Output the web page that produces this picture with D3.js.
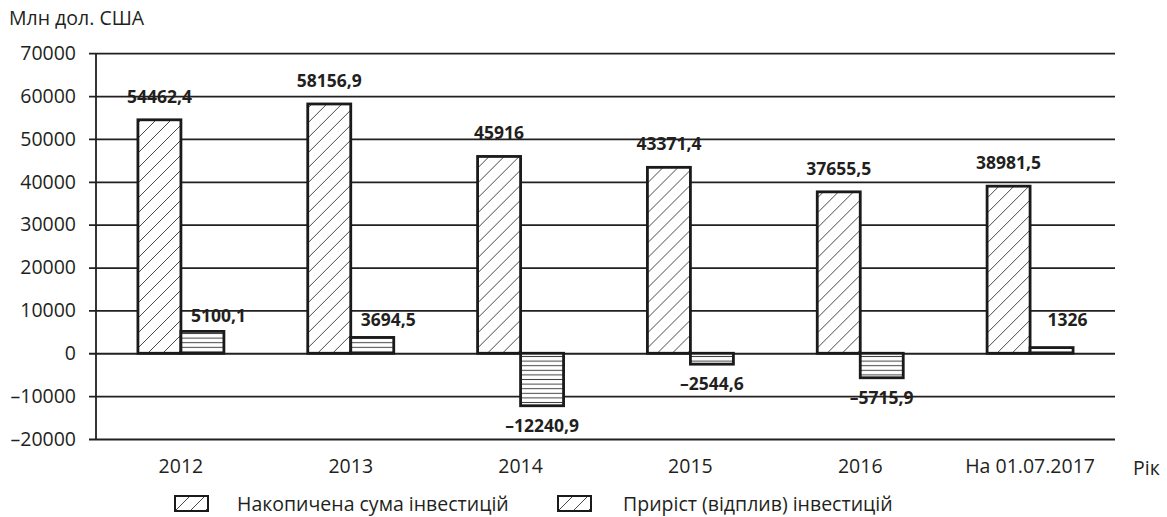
<!DOCTYPE html>
<html>
<head>
<meta charset="utf-8">
<script src="https://cdn.jsdelivr.net/npm/d3@7"></script>
<style>
  body { margin: 0; background: #fff; }
  svg text { font-family: "Open Sans", "Noto Sans", sans-serif; fill: #231f20; }
</style>
</head>
<body>
<script>
// data
const categories = ["2012", "2013", "2014", "2015", "2016", "На 01.07.2017"]
const accumulated = [54462.4, 58156.9, 45916, 43371.4, 37655.5, 38981.5]
const growth = [5100.1, 3694.5, -12240.9, -2544.6, -5715.9, 1326]
const seriesNames = ["Накопичена сума інвестицій", "Приріст (відплив) інвестицій"]
const yTicks = [-20000, -10000, 0, 10000, 20000, 30000, 40000, 50000, 60000, 70000]

const width = 1167
const height = 517
const plotLeft = 96, plotRight = 1115, plotTop = 53.2, plotBottom = 439

const ink = "#231f20"

var svg = d3.select("body").append("svg")
  .attr("width", width)
  .attr("height", height)

// patterns
var defs = svg.append("defs")
var hatch = defs.append("pattern")
  .attr("id", "hatch")
  .attr("patternUnits", "userSpaceOnUse")
  .attr("width", 15).attr("height", 15)
hatch.append("rect").attr("width", 15).attr("height", 15).attr("fill", "#fff")
hatch.append("path")
  .attr("d", "M0,15 L15,0 M-3,3 L3,-3 M12,18 L18,12")
  .attr("stroke", "#333").attr("stroke-width", 0.9)

var stripes = defs.append("pattern")
  .attr("id", "stripes")
  .attr("patternUnits", "userSpaceOnUse")
  .attr("width", 10).attr("height", 4.6)
stripes.append("rect").attr("width", 10).attr("height", 4.6).attr("fill", "#fff")
stripes.append("path")
  .attr("d", "M0,2.3 L10,2.3")
  .attr("stroke", "#444").attr("stroke-width", 1)

// scales
var x0 = d3.scaleBand().domain(categories).range([plotLeft, plotRight]).padding(0)
var x1 = d3.scaleBand().domain([0, 1]).range([0, x0.bandwidth()]).paddingOuter(0.975).paddingInner(0)
var y = d3.scaleLinear().domain([-20000, 70000]).range([plotBottom, plotTop])

const fmt = v => String(v).replace(".", ",").replace("-", "–")

// gridlines + y tick labels
var yAxis = d3.axisLeft(y)
  .tickValues(yTicks)
  .tickSizeInner(-(plotRight - 89))
  .tickSizeOuter(0)
  .tickPadding(13)
  .tickFormat(fmt)

var gy = svg.append("g")
  .attr("transform", "translate(89,0)")
  .call(yAxis)
gy.select(".domain").remove()
gy.selectAll(".tick line").attr("stroke", ink).attr("stroke-width", 1.8)
gy.selectAll(".tick text")
  .attr("font-size", 19.5)
  .attr("font-family", null)
  .attr("fill", ink)

svg.append("line")
  .attr("x1", plotLeft).attr("x2", plotLeft)
  .attr("y1", y(-20000)).attr("y2", y(70000))
  .attr("stroke", ink).attr("stroke-width", 1.8)

// x labels
var xAxis = d3.axisBottom(x0).tickSize(0).tickPadding(20)
var gx = svg.append("g")
  .attr("transform", "translate(0," + y(-20000) + ")")
  .call(xAxis)
gx.select(".domain").remove()
gx.selectAll(".tick text")
  .attr("font-size", 19.5)
  .attr("font-family", null)
  .attr("fill", ink)

// bars
var groups = svg.selectAll(".grp").data(categories).enter()
  .append("g")
  .attr("class", "grp")
  .attr("transform", d => "translate(" + x0(d) + ",0)")

groups.append("rect")
  .attr("x", x1(0))
  .attr("width", x1.bandwidth())
  .attr("y", (d, i) => y(Math.max(0, accumulated[i])))
  .attr("height", (d, i) => Math.abs(y(accumulated[i]) - y(0)))
  .attr("fill", "url(#hatch)")
  .attr("stroke", "#1a1a1a").attr("stroke-width", 2.8)

groups.append("rect")
  .attr("x", x1(1))
  .attr("width", x1.bandwidth())
  .attr("y", (d, i) => y(Math.max(0, growth[i])))
  .attr("height", (d, i) => Math.abs(y(growth[i]) - y(0)))
  .attr("fill", "url(#stripes)")
  .attr("stroke", "#1a1a1a").attr("stroke-width", 2.8)

// value labels
groups.append("text")
  .attr("x", x1(0) + x1.bandwidth() / 2)
  .attr("y", (d, i) => y(accumulated[i]) - 17)
  .attr("text-anchor", "middle")
  .attr("font-size", 17.5)
  .attr("font-weight", "bold")
  .text((d, i) => fmt(accumulated[i]))

groups.append("text")
  .attr("x", (d, i) => x1(1) + x1.bandwidth() / 2 + (growth[i] > 0 ? 16 : 0))
  .attr("y", (d, i) => growth[i] > 0
    ? Math.min(y(growth[i]) - 9, y(0) - 27)
    : y(growth[i]) + 26)
  .attr("text-anchor", "middle")
  .attr("font-size", 17.5)
  .attr("font-weight", "bold")
  .text((d, i) => fmt(growth[i]))

// axis titles
svg.append("text")
  .attr("x", 9).attr("y", 25)
  .attr("font-size", 19.5)
  .text("Млн дол. США")

svg.append("text")
  .attr("x", 1133).attr("y", 475)
  .attr("font-size", 19.5)
  .text("Рік")

// legend (both swatches drawn with the diagonal hatch, as in the original)
var legendX = [175, 558]
var legend = svg.selectAll(".leg").data(seriesNames).enter()
  .append("g")
  .attr("class", "leg")
  .attr("transform", (d, i) => "translate(" + legendX[i] + ",496)")

legend.append("rect")
  .attr("width", 33).attr("height", 15)
  .attr("fill", "url(#hatch)")
  .attr("stroke", "#1a1a1a").attr("stroke-width", 2)

legend.append("text")
  .attr("x", (d, i) => i === 0 ? 62 : 65)
  .attr("y", 15)
  .attr("font-size", 19.5)
  .text(d => d)
</script>
</body>
</html>
